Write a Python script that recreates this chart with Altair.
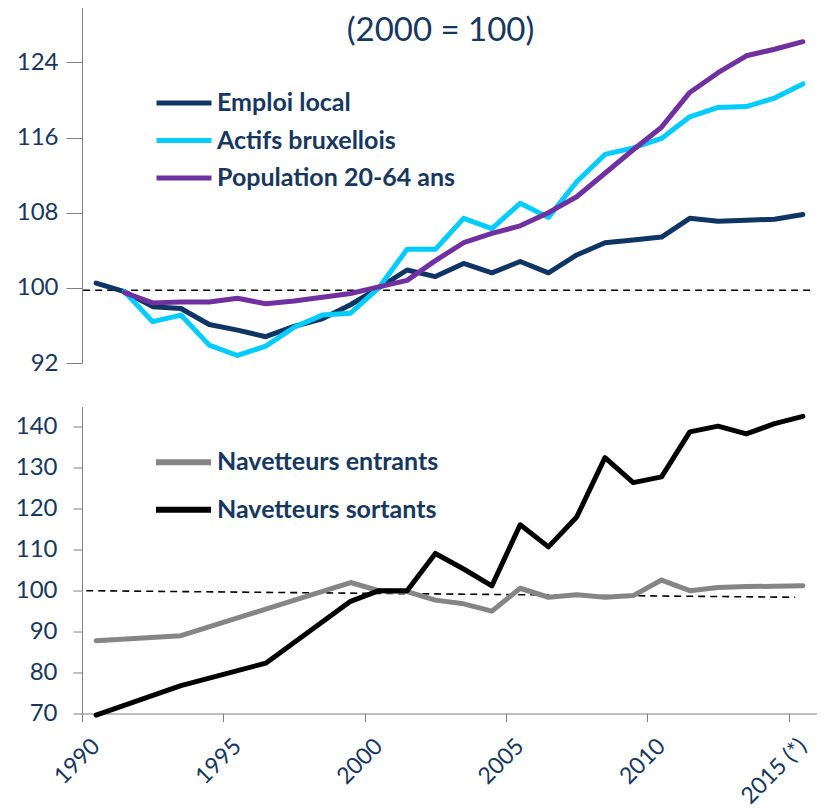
import altair as alt
import pandas as pd

years = list(range(1990, 2016))
emploi_local = [100.5, 99.6, 98.0, 97.8, 96.1, 95.5, 94.8, 95.9, 96.7, 98.2, 100.0, 101.9, 101.2,
                102.6, 101.6, 102.8, 101.6, 103.5, 104.8, 105.1, 105.4, 107.4, 107.1, 107.2, 107.3, 107.8]
actifs_bruxellois = [None, 99.6, 96.4, 97.1, 93.9, 92.8, 93.8, 95.8, 97.1, 97.3, 100.0, 104.1, 104.1,
                     107.4, 106.3, 109.0, 107.5, 111.3, 114.2, 114.9, 115.9, 118.2, 119.2, 119.3, 120.2, 121.7]
population_20_64 = [None, 99.5, 98.4, 98.5, 98.5, 98.9, 98.3, 98.6, 99.0, 99.4, 100.1, 100.8, 102.9,
                    104.8, 105.8, 106.6, 108.0, 109.7, 112.2, 114.7, 117.1, 120.8, 122.9, 124.7, 125.4, 126.2]
navetteurs_entrants = [87.8, None, None, 89.0, None, None, 95.5, None, None, 102.0, 100.0, 99.8, 97.7,
                       96.8, 95.0, 100.6, 98.4, 99.0, 98.4, 98.8, 102.6, 100.0, 100.8, 101.0, 101.1, 101.2]
navetteurs_sortants = [69.6, None, None, 76.8, None, None, 82.3, None, None, 97.4, 100.0, 100.0, 109.1,
                       105.3, 101.2, 116.1, 110.7, 118.0, 132.5, 126.4, 127.8, 138.8, 140.2, 138.3, 140.8, 142.6]

top_series = ["Emploi local", "Actifs bruxellois", "Population 20-64 ans"]
top_colors = ["#0E3564", "#00CCFF", "#7030A0"]
bottom_series = ["Navetteurs entrants", "Navetteurs sortants"]
bottom_colors = ["#858585", "#000000"]

top_ticks = [92, 100, 108, 116, 124]
bottom_ticks = [70, 80, 90, 100, 110, 120, 130, 140]
x_ticks = [1990, 1995, 2000, 2005, 2010, 2015]

# dashed reference lines (2000 = 100), as drawn in the original
ref_top_year = [1989.54, 2015.27]
ref_top_value = [99.75, 99.75]
ref_bottom_year = [1989.65, 2014.73]
ref_bottom_value = [100.0, 98.4]

title_text = "(2000 = 100)"


def long_df(names, columns):
    rows = []
    for name, col in zip(names, columns):
        for y, v in zip(years, col):
            if v is not None:
                rows.append({"year": y, "value": v, "series": name})
    return pd.DataFrame(rows)


df_top = long_df(top_series, [emploi_local, actifs_bruxellois, population_20_64])
df_bottom = long_df(bottom_series, [navetteurs_entrants, navetteurs_sortants])
df_ref_top = pd.DataFrame({"year": ref_top_year, "value": ref_top_value})
df_ref_bottom = pd.DataFrame({"year": ref_bottom_year, "value": ref_bottom_value})

NAVY = "#17375E"
AXIS_GRAY = "#7F7F7F"
FONT = "Lato"
W = 735


def xs():
    return alt.Scale(domain=[1989.5, 2015.5], nice=False, zero=False)


def legend(x, y, row_pad, stroke_w):
    return alt.Legend(title=None, orient="none", legendX=x, legendY=y,
                      symbolType="stroke", symbolSize=3025, symbolStrokeWidth=stroke_w,
                      clipHeight=20,
                      labelFont=FONT, labelFontSize=25, labelFontWeight="bold", labelLimit=0,
                      labelColor=NAVY, labelOffset=3, rowPadding=row_pad, padding=0)


# ---------- top panel ----------
top_lines = alt.Chart(df_top).mark_line(strokeWidth=5, strokeJoin="round", strokeCap="round").encode(
    x=alt.X("year:Q", scale=xs(), axis=None),
    y=alt.Y("value:Q", scale=alt.Scale(domain=[92, 130], nice=False, zero=False),
            axis=alt.Axis(values=top_ticks, title=None, grid=False, tickSize=16, labelPadding=8,
                          labelFont=FONT, labelFontSize=24, labelColor=NAVY,
                          domainColor=AXIS_GRAY, tickColor=AXIS_GRAY)),
    color=alt.Color("series:N", sort=top_series,
                    scale=alt.Scale(domain=top_series, range=top_colors),
                    legend=legend(72, 87, 12.5, 5)),
)
top_ref = alt.Chart(df_ref_top).mark_line(color="black", strokeWidth=1.6, strokeDash=[7, 5]).encode(
    x=alt.X("year:Q", scale=xs(), axis=None), y=alt.Y("value:Q"))

top = alt.layer(top_ref, top_lines).properties(
    width=W, height=357,
    title=alt.TitleParams(title_text, font=FONT, fontSize=33, fontWeight="normal", color=NAVY,
                          anchor="middle", offset=-42, dx=-9),
)

# ---------- bottom panel ----------
bottom_lines = alt.Chart(df_bottom).mark_line(strokeWidth=5, strokeJoin="round", strokeCap="round").encode(
    x=alt.X("year:Q", scale=xs(),
            axis=alt.Axis(values=x_ticks, title=None, grid=False, tickSize=8,
                          tickOffset=-14.13, labelOffset=6, labelAngle=-45, labelAlign="right",
                          labelBaseline="top", labelPadding=13,
                          labelExpr="datum.value == 2015 ? '2015 (*)' : datum.label",
                          labelFont=FONT, labelFontSize=23, labelColor=NAVY,
                          domainColor=AXIS_GRAY, tickColor=AXIS_GRAY, format="d")),
    y=alt.Y("value:Q", scale=alt.Scale(domain=[70, 145], nice=False, zero=False),
            axis=alt.Axis(values=bottom_ticks, title=None, grid=False, tickSize=9, labelPadding=16,
                          labelFont=FONT, labelFontSize=24, labelColor=NAVY,
                          domainColor=AXIS_GRAY, tickColor=AXIS_GRAY)),
    color=alt.Color("series:N", sort=bottom_series,
                    scale=alt.Scale(domain=bottom_series, range=bottom_colors),
                    legend=legend(71, 45.7, 22.6, 6)),
)
bottom_ref = alt.Chart(df_ref_bottom).mark_line(color="black", strokeWidth=1.6, strokeDash=[7, 5]).encode(
    x=alt.X("year:Q", scale=xs()), y=alt.Y("value:Q"))

bottom = alt.layer(bottom_ref, bottom_lines).properties(width=W, height=307)

chart = alt.vconcat(top, bottom, spacing=31.5).resolve_scale(
    color="independent"
).properties(
    padding={"top": -2, "left": 7, "right": 0, "bottom": 0}
).configure_view(stroke=None)

chart.save("out.html", embed_options={"renderer": "svg", "actions": False})
